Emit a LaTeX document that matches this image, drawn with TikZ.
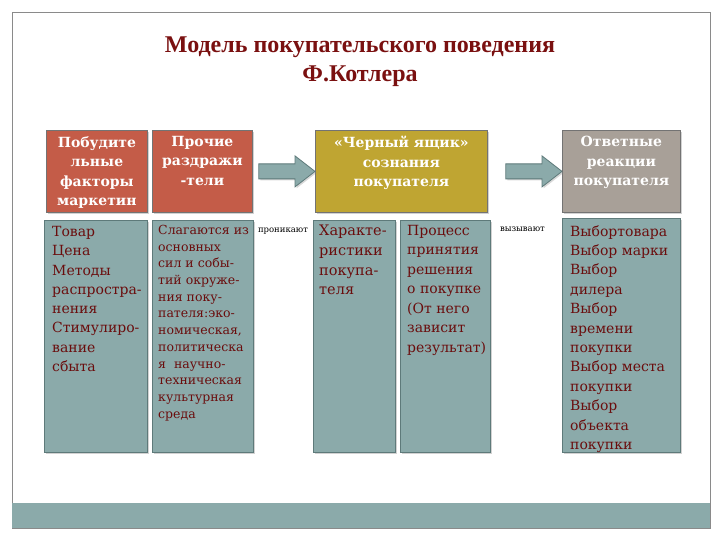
\documentclass[tikz,border=0pt]{standalone}
\usepackage{fontspec}
\setmainfont{Liberation Serif}
\newfontfamily\boxfont{DejaVu Serif}
\usetikzlibrary{calc,shadows}
\definecolor{hred}{HTML}{C45C48}
\definecolor{hgold}{HTML}{BFA532}
\definecolor{htaupe}{HTML}{A8A098}
\definecolor{tealbox}{HTML}{8BAAAA}
\definecolor{tealdark}{HTML}{5E7A7A}
\definecolor{titlered}{HTML}{7A1010}
\definecolor{bodyred}{HTML}{6A0D0D}
\definecolor{framegray}{HTML}{8A8A8A}
\tikzset{
  boxbase/.style={inner sep=0pt, anchor=north west, draw=black!55, line width=0.8pt,
    drop shadow={opacity=0.35, shadow xshift=2pt, shadow yshift=-2pt}},
  hdr/.style={boxbase, minimum height=82},
  lowbox/.style={boxbase, fill=tealbox, draw=tealdark},
  htext/.style={inner sep=0pt, anchor=north, align=center, text=white,
    font=\boxfont\bfseries\fontsize{14}{19.5}\selectfont},
  ltext/.style={inner sep=0pt, anchor=north west, align=left, text=bodyred,
    font=\boxfont\fontsize{14}{19.3}\selectfont},
  stext/.style={inner sep=0pt, anchor=north west, align=left, text=bodyred,
    font=\boxfont\fontsize{12.5}{16.7}\selectfont},
  smalllabel/.style={inner sep=0pt, anchor=west, text=black, font=\boxfont\fontsize{8.5}{10}\selectfont},
  blk/.style={fill=tealbox, draw=tealdark, line width=0.8pt,
    drop shadow={opacity=0.3, shadow xshift=1.5pt, shadow yshift=-1.5pt}},
  titlestyle/.style={inner sep=0pt, align=center, text=titlered,
    font=\bfseries\fontsize{24}{29}\selectfont}
}
\begin{document}
\begin{tikzpicture}[x=1pt,y=-1pt]
\useasboundingbox (0,0) rectangle (720,540);
\fill[white] (0,0) rectangle (720,540);
\draw[framegray, line width=0.8pt] (12,12) rectangle (710,528);
\fill[tealbox] (12,503) rectangle (710,528);

\node[titlestyle] (title) at (360,62) {Модель покупательского поведения\\Ф.Котлера};

% header boxes
\node[hdr, fill=hred, minimum width=101] (h1) at (46,130) {};
\node[hdr, fill=hred, minimum width=100] (h2) at (152,130) {};
\node[hdr, fill=hgold, minimum width=172] (h3) at (315,130) {};
\node[hdr, fill=htaupe, minimum width=118] (h4) at (562,130) {};

\node[htext] (t1) at ($(h1.north)+(0,6)$) {Побудите\\льные\\факторы\\маркетин};
\node[htext] (t2) at ($(h2.north)+(0,6)$) {Прочие\\раздражи\\-тели};
\node[htext] (t3) at ($(h3.north)+(0,6)$) {«Черный ящик»\\сознания\\покупателя};
\node[htext] (t4) at ($(h4.north)+(0,6)$) {Ответные\\реакции\\покупателя};

% block arrows
\coordinate (a1s) at ($(h2.east)+(6,0)$);
\coordinate (a1e) at (h3.west);
\draw[blk] ($(a1s)+(0,-7.5)$) -- ($(a1e)+(-20,-7.5)$) -- ($(a1e)+(-20,-15.5)$) -- (a1e)
  -- ($(a1e)+(-20,15.5)$) -- ($(a1e)+(-20,7.5)$) -- ($(a1s)+(0,7.5)$) -- cycle;
\coordinate (a2s) at ($(h3.east)+(18,0)$);
\coordinate (a2e) at (h4.west);
\draw[blk] ($(a2s)+(0,-7.5)$) -- ($(a2e)+(-20,-7.5)$) -- ($(a2e)+(-20,-15.5)$) -- (a2e)
  -- ($(a2e)+(-20,15.5)$) -- ($(a2e)+(-20,7.5)$) -- ($(a2s)+(0,7.5)$) -- cycle;

% lower boxes
\node[lowbox, minimum width=103, minimum height=232] (b1) at (44,220) {};
\node[lowbox, minimum width=101, minimum height=232] (b2) at (152,220) {};
\node[lowbox, minimum width=82, minimum height=232] (b3) at (313,220) {};
\node[lowbox, minimum width=90, minimum height=232] (b4) at (400,220) {};
\node[lowbox, minimum width=118, minimum height=234] (b5) at (562,218) {};

\node[ltext] (l1) at ($(b1.north west)+(8,6)$) {Товар\\Цена\\Методы\\распростра-\\нения\\Стимулиро-\\вание\\сбыта};
\node[stext] (l2) at ($(b2.north west)+(6,5)$) {Слагаются из\\основных\\сил и собы-\\тий окруже-\\ния поку-\\пателя:эко-\\номическая,\\политическа\\я~~научно-\\техническая\\культурная\\среда};
\node[ltext, font=\boxfont\fontsize{14.5}{19.7}\selectfont] (l3) at ($(b3.north west)+(6,5)$) {Характе-\\ристики\\покупа-\\теля};
\node[ltext, font=\boxfont\fontsize{14}{19.5}\selectfont] (l4) at ($(b4.north west)+(7,5)$) {Процесс\\принятия\\решения\\о покупке\\(От него\\зависит\\результат)};
\node[ltext, font=\boxfont\fontsize{14}{19.4}\selectfont] (l5) at ($(b5.north west)+(8,7)$) {Выбортовара\\Выбор марки\\Выбор\\дилера\\Выбор\\времени\\покупки\\Выбор места\\покупки\\Выбор\\объекта\\покупки};

\node[smalllabel] (p1) at ($(b2.north east)+(4,11)$) {проникают};
\node[smalllabel] (p2) at ($(b4.north east)+(9,9)$) {вызывают};
\end{tikzpicture}
\end{document}
